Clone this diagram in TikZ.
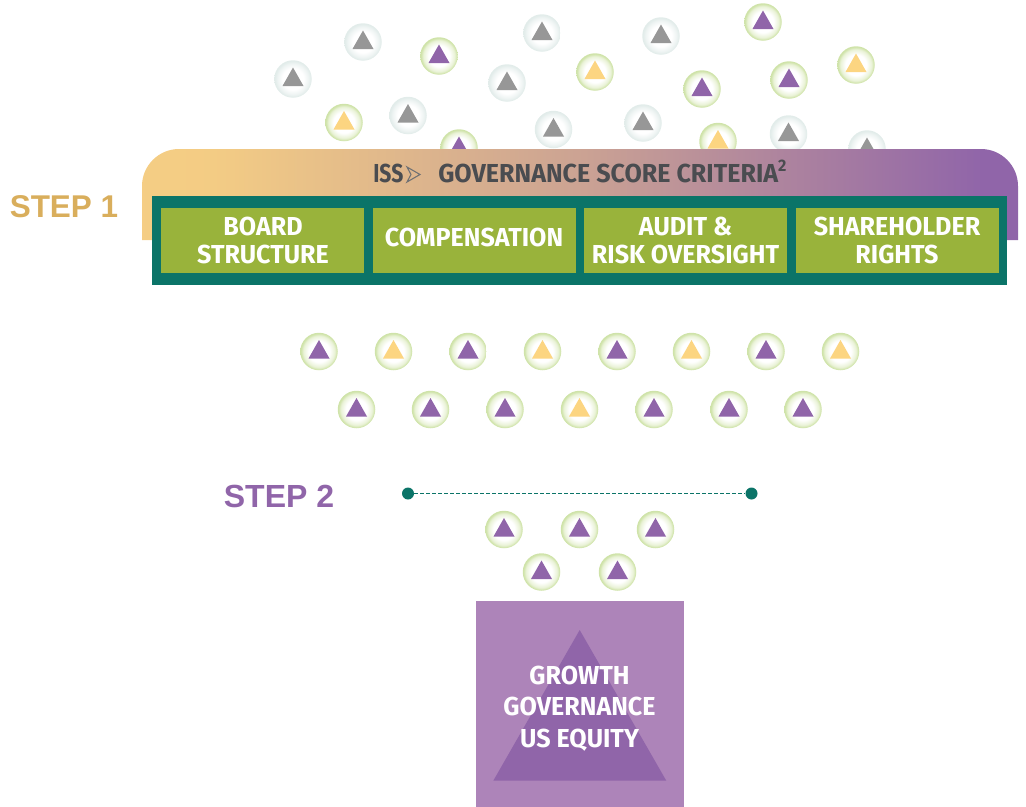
\documentclass[tikz,border=0pt]{standalone}
\usepackage{fontspec}
\setmainfont[FakeStretch=0.965]{Fira Sans}
\newfontfamily\stepfont{Liberation Sans}
\usetikzlibrary{calc}
\definecolor{ipurple}{HTML}{9065A9}
\definecolor{iyellow}{HTML}{FCD581}
\definecolor{igray}{HTML}{979797}
\definecolor{iteal}{HTML}{0B7468}
\definecolor{leaf}{HTML}{99B33B}
\definecolor{sqpurple}{HTML}{AD84B9}
\definecolor{ink}{HTML}{4A4C50}
\definecolor{stepone}{HTML}{D9AE5C}
\definecolor{greenrim}{HTML}{CFE3A9}
\definecolor{greenmid}{HTML}{E9F2D6}
\definecolor{grayrim}{HTML}{E2ECEA}
\definecolor{graymid}{HTML}{EDF3F2}
\pgfdeclareradialshading{greenball}{\pgfpoint{0bp}{0bp}}{color(0bp)=(white); color(14bp)=(white); color(21bp)=(greenmid); color(24bp)=(greenrim); color(25bp)=(greenrim); color(50bp)=(greenrim)}
\pgfdeclareradialshading{grayball}{\pgfpoint{0bp}{0bp}}{color(0bp)=(white); color(14bp)=(white); color(21bp)=(graymid); color(24bp)=(grayrim); color(25bp)=(grayrim); color(50bp)=(grayrim)}
\pgfdeclarehorizontalshading{bandshade}{100bp}{color(0bp)=(iyellow); color(29bp)=(iyellow!92!ipurple); color(50bp)=(iyellow!55!ipurple); color(73bp)=(ipurple); color(100bp)=(ipurple)}
\tikzset{
  x=0.75pt,y=-0.75pt,
  ballg/.style={circle,minimum size=37.5*0.75pt,inner sep=0pt,shading=greenball},
  ballz/.style={circle,minimum size=37.5*0.75pt,inner sep=0pt,shading=grayball},
  itemlabel/.style={text=white,font=\fontsize{19.5pt}{21pt}\selectfont\bfseries,anchor=base,inner sep=0pt},
  headlabel/.style={text=ink,font=\fontsize{19.5pt}{21pt}\selectfont\bfseries,anchor=base west,inner sep=0pt},
  leafbox/.style={fill=leaf,draw=none},
  steplabel/.style={font=\stepfont\fontsize{23.6pt}{26pt}\selectfont\bfseries,inner sep=0pt},
  enddot/.style={circle,fill=iteal,minimum size=12*0.75pt,inner sep=0pt},
}
% \ico{name}{x}{y}{ball style}{triangle colour}
\newcommand{\ico}[5]{%
  \node[#4] (#1) at (#2,#3) {};
  \fill[#5] ($(#2,#3)+(0,-11.5)$) -- ($(#2,#3)+(10.5,7)$) -- ($(#2,#3)+(-10.5,7)$) -- cycle;
}
\newcommand{\icP}[3]{\ico{#1}{#2}{#3}{ballg}{ipurple}}
\newcommand{\icY}[3]{\ico{#1}{#2}{#3}{ballg}{iyellow}}
\newcommand{\icG}[3]{\ico{#1}{#2}{#3}{ballz}{igray}}
\begin{document}
\begin{tikzpicture}
\useasboundingbox (0,0) rectangle (1026,807);
% scattered candidates
\icG{a1}{363}{42}\icG{a2}{293}{79}\icG{a3}{507}{83}\icG{a4}{408}{115.5}\icG{a5}{542}{33}
\icG{a6}{661}{36}\icG{a7}{553.5}{129.5}\icG{a8}{643}{123}\icG{a9}{788.5}{134}\icG{a10}{867}{149}
\icP{b1}{439}{56}\icP{b2}{702}{89}\icP{b3}{763}{22}\icP{b4}{789}{80}\icP{b5}{459}{148}
\icY{c1}{595}{72}\icY{c2}{856}{65}\icY{c3}{344}{122.5}\icY{c4}{718}{141.5}
% band
\path[shading=bandshade] (142,240) -- (142,186) .. controls (142,165.6) and (158.6,149) .. (179,149) -- (981,149) .. controls (1001.4,149) and (1018,165.6) .. (1018,186) -- (1018,240) -- cycle;
\node[headlabel] (iss) at (373,182.2) {\scalebox{0.84}[1]{ISS}};
\draw[ink!80,line width=0.8pt,line join=miter] (407,167) -- (420,174.5) -- (407,182) -- (411,174.5) -- cycle;
\node[headlabel] (gsc) at (438,182.2) {GOVERNANCE SCORE CRITERIA\raisebox{0.4em}{\fontsize{12.5pt}{13pt}\selectfont 2}};
% teal frame and boxes
\fill[iteal] (152,196) rectangle (1007,285);
\fill[leafbox] (161,208) rectangle (364,273);
\fill[leafbox] (373,208) rectangle (576,273);
\fill[leafbox] (584,208) rectangle (787,273);
\fill[leafbox] (796,208) rectangle (999,273);
\node[itemlabel] (t1a) at (263,235) {BOARD};
\node[itemlabel] (t1b) at (263,263) {STRUCTURE};
\node[itemlabel] (t2) at (474,246) {COMPENSATION};
\node[itemlabel] (t3a) at (685.5,235) {AUDIT \&};
\node[itemlabel] (t3b) at (685.5,263) {RISK OVERSIGHT};
\node[itemlabel] (t4a) at (897,235) {SHAREHOLDER};
\node[itemlabel] (t4b) at (897,263) {RIGHTS};
\node[steplabel,text=stepone] (s1) at (64,207) {STEP 1};
% row 1
\icP{r1}{319}{351.5}\icY{r2}{393.5}{351.5}\icP{r3}{468}{351.5}\icY{r4}{542.5}{351.5}
\icP{r5}{617}{351.5}\icY{r6}{691.5}{351.5}\icP{r7}{766}{351.5}\icY{r8}{840.5}{351.5}
% row 2
\icP{q1}{356.5}{409.5}\icP{q2}{430.5}{409.5}\icP{q3}{505}{409.5}\icY{q4}{579.5}{409.5}
\icP{q5}{654}{409.5}\icP{q6}{729}{409.5}\icP{q7}{803}{409.5}
% step 2
\node[steplabel,font=\stepfont\fontsize{24pt}{26pt}\selectfont\bfseries,text=ipurple] (s2) at (279,496) {STEP 2};
\node[enddot] (d1) at (408,493.5) {};
\node[enddot] (d2) at (751.5,493.5) {};
\draw[iteal,line width=0.6pt,dash pattern=on 3pt off 1.5pt] (d1) -- (d2);
% final
\icP{f1}{504}{529.5}\icP{f2}{579.5}{529.5}\icP{f3}{655.5}{529.5}\icP{f4}{541.5}{572}\icP{f5}{617.5}{572}
\fill[sqpurple] (476,601) rectangle (684,807);
\fill[ipurple] (579.7,630) -- (666.3,780.7) -- (493.3,780.7) -- cycle;
\node[itemlabel] (g1) at (579.5,684) {GROWTH};
\node[itemlabel] (g2) at (579.5,715.7) {GOVERNANCE};
\node[itemlabel] (g3) at (579.5,747.4) {US EQUITY};
\end{tikzpicture}
\end{document}
